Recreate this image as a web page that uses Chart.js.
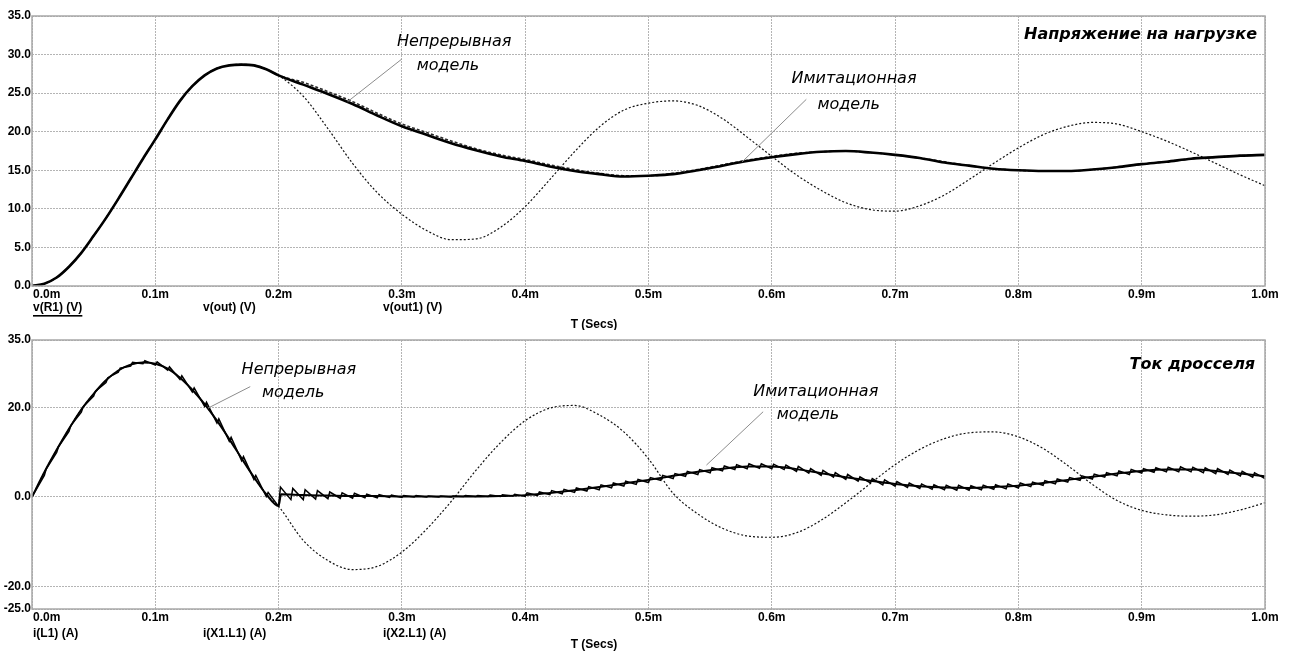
<!DOCTYPE html>
<html>
<head>
<meta charset="utf-8">
<script src="https://cdn.jsdelivr.net/npm/chart.js@4.4.1/dist/chart.umd.min.js"></script>
<style>
  html, body { margin: 0; padding: 0; background: #fff; }
  #wrap { width: 1291px; height: 655px; }
  canvas { display: block; }
</style>
</head>
<body>
<div id="wrap">
  <canvas id="top" width="1291" height="330"></canvas>
  <canvas id="bot" width="1291" height="325"></canvas>
</div>
<script>
// time axis, ms
const tTop = [0,0.01,0.02,0.03,0.04,0.05,0.06,0.07,0.08,0.09,0.10,0.11,0.12,0.13,0.14,0.15,0.16,0.17,0.18,0.19,0.20,
  0.22,0.24,0.26,0.28,0.30,0.32,0.34,0.36,0.38,0.40,0.42,0.44,0.46,0.48,0.50,0.52,0.54,0.56,0.58,0.60,
  0.62,0.64,0.66,0.68,0.70,0.72,0.74,0.76,0.78,0.80,0.82,0.84,0.86,0.88,0.90,0.92,0.94,0.96,0.98,1.00];

// upper plot: load voltage, V
const vR1 = [0,0.3,1.1,2.5,4.3,6.5,8.8,11.3,13.9,16.5,19.0,21.6,24.0,25.9,27.3,28.2,28.6,28.7,28.6,28.1,27.3,
  26.1,24.9,23.6,22.1,20.7,19.6,18.5,17.6,16.8,16.2,15.5,14.9,14.5,14.2,14.3,14.5,15.0,15.6,16.2,16.7,
  17.1,17.4,17.5,17.3,17.0,16.6,16.0,15.6,15.2,15.0,14.9,14.9,15.1,15.4,15.8,16.1,16.5,16.7,16.9,17.0];
const vOut = [0,0.3,1.1,2.5,4.3,6.5,8.8,11.3,13.9,16.5,19.0,21.6,24.0,25.9,27.3,28.2,28.6,28.7,28.6,28.1,27.3,
  26.4,25.2,23.9,22.4,21.0,19.9,18.8,17.8,17.0,16.4,15.7,15.1,14.6,14.3,14.3,14.6,15.1,15.7,16.3,16.8,
  17.2,17.4,17.5,17.3,17.0,16.6,16.1,15.6,15.2,15.0,14.9,14.9,15.1,15.4,15.8,16.1,16.5,16.7,16.9,17.0];
const vOut1 = [0,0.3,1.1,2.5,4.3,6.5,8.8,11.3,13.9,16.5,19.0,21.6,24.0,25.9,27.3,28.2,28.6,28.7,28.6,28.1,27.3,
  24.6,20.4,15.9,12.1,9.3,7.2,6.0,6.1,7.6,10.3,13.8,17.4,20.6,22.8,23.7,24.0,23.4,21.7,19.3,16.8,
  14.4,12.4,10.8,9.9,9.7,10.4,11.8,13.8,15.9,17.9,19.6,20.7,21.2,21.0,20.0,18.8,17.4,15.9,14.4,13.0];

// lower plot: inductor current, A
const tL1 = [0,0.01,0.02,0.03,0.04,0.05,0.06,0.07,0.08,0.09,0.10,0.11,0.12,0.13,0.14,0.15,0.16,0.17,0.18,0.19,0.20,0.202,
  0.22,0.24,0.26,0.28,0.30,0.32,0.34,0.36,0.38,0.40,0.42,0.44,0.46,0.48,0.50,0.52,0.54,0.56,0.58,0.60,
  0.62,0.64,0.66,0.68,0.70,0.72,0.74,0.76,0.78,0.80,0.82,0.84,0.86,0.88,0.90,0.92,0.94,0.96,0.98,1.00];
const iL1 = [0,5.5,10.5,15.2,19.5,23.0,26.0,28.2,29.5,30.0,29.7,28.6,26.6,23.9,20.7,17.0,12.9,8.6,4.4,0.6,-2.0,0.6,
  0.4,0.3,0.2,0.2,0.1,0.1,0.1,0.1,0.2,0.4,0.9,1.5,2.2,3.0,3.8,4.7,5.6,6.3,6.8,6.8,
  6.2,5.3,4.4,3.6,2.9,2.4,2.1,2.0,2.2,2.5,3.1,3.8,4.5,5.2,5.8,6.1,6.1,5.8,5.2,4.6];
const iX2L1 = [0,5.5,10.5,15.2,19.5,23.0,26.0,28.2,29.5,30.0,29.7,28.6,26.6,23.9,20.7,17.0,12.9,8.6,4.4,0.6,-2.1,
  -9.7,-14.2,-16.2,-15.5,-12.3,-7.2,-1.0,5.9,12.1,17.0,19.8,20.4,18.3,14.5,8.5,0.8,-3.8,-7.0,-8.7,-9.0,
  -8.0,-5.2,-1.3,3.0,7.2,10.6,13.0,14.3,14.5,13.4,10.8,7.0,2.8,-0.8,-3.0,-4.0,-4.3,-4.0,-2.9,-1.3];

// switching model: value just before each switching instant (every 0.01 ms) and just after it
const tRip = Array.from({ length: 101 }, (_, k) => k / 100);
const ripLow = [0,4.8,9.9,14.6,18.9,22.5,25.5,27.8,29.2,29.7,29.4,28.3,26.2,23.4,20.2,16.5,12.4,8.1,3.9,0.1,
  -2.1,-0.6,-0.6,-0.5,-0.4,-0.3,-0.3,-0.2,-0.2,-0.1,-0.1,0.0,0.0,0.0,0.0,0.1,0.1,0.1,0.1,0.2,
  0.1,0.3,0.5,0.7,1.0,1.3,1.6,2.0,2.4,2.8,3.2,3.7,4.1,4.6,5.0,5.4,5.8,6.1,6.3,6.4,
  6.3,6.1,5.7,5.3,4.8,4.4,3.9,3.5,3.1,2.7,2.4,2.1,1.9,1.7,1.6,1.5,1.5,1.6,1.7,1.8,
  2.0,2.3,2.6,2.9,3.3,3.7,4.0,4.4,4.7,5.0,5.3,5.5,5.6,5.6,5.6,5.4,5.2,5.0,4.7,4.4,4.1];
const ripHigh = [0,6.2,11.2,15.9,20.1,23.6,26.6,28.7,30.0,30.4,30.1,29.0,27.0,24.3,21.1,17.4,13.3,9.0,4.8,1.0,
  2.2,1.9,1.6,1.4,1.1,0.9,0.8,0.6,0.5,0.4,0.3,0.3,0.2,0.2,0.2,0.3,0.3,0.4,0.5,0.6,
  0.9,1.1,1.4,1.7,2.0,2.3,2.7,3.1,3.5,3.9,4.3,4.8,5.2,5.7,6.1,6.5,6.9,7.2,7.4,7.4,
  7.3,7.1,6.8,6.3,5.9,5.4,5.0,4.5,4.1,3.8,3.4,3.1,2.9,2.7,2.6,2.6,2.5,2.6,2.7,2.9,
  3.1,3.3,3.6,4.0,4.3,4.7,5.1,5.4,5.8,6.1,6.3,6.5,6.6,6.7,6.6,6.5,6.3,6.0,5.7,5.4,5.1];

const xTicks = [0,0.1,0.2,0.3,0.4,0.5,0.6,0.7,0.8,0.9,1.0];
const xTickLabels = ['0.0m','0.1m','0.2m','0.3m','0.4m','0.5m','0.6m','0.7m','0.8m','0.9m','1.0m'];
const yTopTicks = [0,5,10,15,20,25,30,35];
const yBotTicks = [-25,-20,0,20,35];

const topProbes = ['v(R1) (V)', 'v(out) (V)', 'v(out1) (V)'];
const botProbes = ['i(L1) (A)', 'i(X1.L1) (A)', 'i(X2.L1) (A)'];

function pts(ts, vs) { return ts.map((t, i) => ({ x: t, y: vs[i] })); }
function sawPts() {
  const out = [];
  tRip.forEach((t, k) => {
    out.push({ x: t, y: ripLow[k] });
    if (k > 0) out.push({ x: t + 0.0015, y: ripHigh[k] });
  });
  return out;
}

const tickFont = 'bold 12px "Liberation Sans", Arial, sans-serif';
const noteFont = 'italic 16px "DejaVu Sans", sans-serif';
const titleFont = 'italic bold 16px "DejaVu Sans", sans-serif';

const probePlugin = {
  id: 'probe',
  afterDraw(chart, args, o) {
    const { ctx, chartArea: a, scales: { x, y } } = chart;
    ctx.save();
    ctx.strokeStyle = '#a8a8a8';
    ctx.lineWidth = 1.5;
    ctx.strokeRect(a.left, a.top, a.right - a.left, a.bottom - a.top);

    ctx.fillStyle = '#000';
    ctx.font = tickFont;
    ctx.textBaseline = 'middle';
    xTicks.forEach((t, i) => {
      const px = x.getPixelForValue(t);
      ctx.textAlign = i === 0 ? 'left' : 'center';
      ctx.fillText(xTickLabels[i], i === 0 ? px + 1 : px, a.bottom + o.tickDy);
    });
    ctx.textAlign = 'left';
    o.probes.forEach((p, i) => {
      const px = a.left + o.probeDx[i];
      ctx.fillText(p, px, a.bottom + o.probeDy);
      if (i === 0 && o.underline) {
        const w = ctx.measureText(p).width;
        ctx.fillRect(px, a.bottom + o.probeDy + 7, w, 1.6);
      }
    });
    ctx.textAlign = 'center';
    ctx.fillText('T (Secs)', a.left + o.secsDx, a.bottom + o.secsDy);

    ctx.strokeStyle = '#8c8c8c';
    ctx.lineWidth = 1;
    o.leaders.forEach(l => {
      ctx.beginPath();
      ctx.moveTo(x.getPixelForValue(l[0]), y.getPixelForValue(l[1]));
      ctx.lineTo(x.getPixelForValue(l[2]), y.getPixelForValue(l[3]));
      ctx.stroke();
    });
    o.notes.forEach(n => {
      ctx.font = n.bold ? titleFont : noteFont;
      ctx.textAlign = n.align || 'left';
      ctx.fillText(n.text, x.getPixelForValue(n.t), y.getPixelForValue(n.v));
    });
    ctx.restore();
  }
};

function makeChart(id, datasets, yMin, yMax, yTicks, axisH, padTop, extra) {
  return new Chart(document.getElementById(id), {
    type: 'line',
    data: { datasets },
    plugins: [probePlugin],
    options: {
      responsive: false,
      animation: false,
      devicePixelRatio: 1,
      parsing: false,
      layout: { padding: { top: padTop, right: 26, left: 0, bottom: 0 } },
      elements: { point: { radius: 0 } },
      plugins: { legend: { display: false }, tooltip: { enabled: false }, probe: extra },
      scales: {
        x: {
          type: 'linear', min: 0, max: 1,
          afterBuildTicks: s => { s.ticks = xTicks.map(v => ({ value: v })); },
          afterFit: s => { s.height = axisH; },
          ticks: { display: false },
          grid: { color: '#b4b4b4', lineWidth: 1, drawTicks: false },
          border: { display: false, dash: [2, 1] }
        },
        y: {
          min: yMin, max: yMax,
          afterBuildTicks: s => { s.ticks = yTicks.map(v => ({ value: v })); },
          afterFit: s => { s.width = 32; },
          ticks: { color: '#000', font: { family: '"Liberation Sans", Arial, sans-serif', size: 12, weight: 'bold' },
                   padding: 1, callback: v => v.toFixed(1) },
          grid: { color: '#b4b4b4', lineWidth: 1, drawTicks: false },
          border: { display: false, dash: [2, 1] }
        }
      }
    }
  });
}

makeChart('top', [
  { label: topProbes[0], data: pts(tTop, vR1), borderColor: '#000', borderWidth: 2.6, cubicInterpolationMode: 'monotone' },
  { label: topProbes[1], data: pts(tTop, vOut), borderColor: '#2a2a2a', borderWidth: 1.6, borderDash: [3, 2], cubicInterpolationMode: 'monotone' },
  { label: topProbes[2], data: pts(tTop, vOut1), borderColor: '#111', borderWidth: 1.2, borderDash: [2, 2], cubicInterpolationMode: 'monotone' }
], 0, 35, yTopTicks, 44, 16, {
  probes: topProbes, probeDx: [1, 171, 351], underline: true,
  tickDy: 9, probeDy: 22, secsDx: 562, secsDy: 39,
  leaders: [[0.2998, 29.4, 0.256, 23.9], [0.628, 24.2, 0.576, 16.1]],
  notes: [
    { text: 'Непрерывная', t: 0.296, v: 31.7 },
    { text: 'модель', t: 0.312, v: 28.6 },
    { text: 'Имитационная', t: 0.616, v: 26.8 },
    { text: 'модель', t: 0.637, v: 23.5 },
    { text: 'Напряжение на нагрузке', t: 0.9935, v: 32.6, bold: true, align: 'right' }
  ]
});

makeChart('bot', [
  { label: botProbes[0], data: pts(tL1, iL1), borderColor: '#000', borderWidth: 2, cubicInterpolationMode: 'monotone' },
  { label: botProbes[1], data: sawPts(), borderColor: '#000', borderWidth: 1.5, tension: 0 },
  { label: botProbes[2], data: pts(tTop, iX2L1), borderColor: '#111', borderWidth: 1.2, borderDash: [2, 2], cubicInterpolationMode: 'monotone' }
], -25, 35, yBotTicks, 46, 10, {
  probes: botProbes, probeDx: [1, 171, 351], underline: false,
  tickDy: 9, probeDy: 25, secsDx: 562, secsDy: 36,
  leaders: [[0.177, 24.6, 0.1427, 19.8], [0.593, 19.0, 0.547, 7.1]],
  notes: [
    { text: 'Непрерывная', t: 0.170, v: 28.3 },
    { text: 'модель', t: 0.1865, v: 23.2 },
    { text: 'Имитационная', t: 0.585, v: 23.4 },
    { text: 'модель', t: 0.604, v: 18.3 },
    { text: 'Ток дросселя', t: 0.992, v: 29.4, bold: true, align: 'right' }
  ]
});
</script>
</body>
</html>
